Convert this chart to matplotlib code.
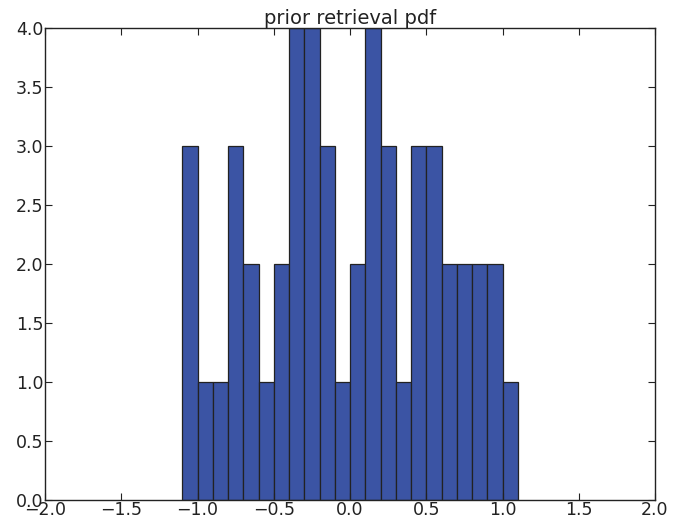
import numpy as np
import matplotlib.pyplot as plt

# histogram of the prior retrieval samples, bins of 0.1 from -1.1 to 1.1
bin_edges = np.round(np.arange(-1.1, 1.1001, 0.1), 2)
counts = [3, 1, 1, 3, 2, 1, 2, 4, 4, 3, 1, 2, 4, 3, 1, 3, 3, 2, 2, 2, 2, 1]

x_ticks = [-2.0, -1.5, -1.0, -0.5, 0.0, 0.5, 1.0, 1.5, 2.0]
y_ticks = [0.0, 0.5, 1.0, 1.5, 2.0, 2.5, 3.0, 3.5, 4.0]

plt.rcParams['font.family'] = 'DejaVu Sans'

fig = plt.figure(figsize=(6.88, 5.26), dpi=100)
ax = fig.add_axes([45 / 688, 26 / 526, 610 / 688, 472 / 526])

centers = (bin_edges[:-1] + bin_edges[1:]) / 2
ax.hist(centers, bins=bin_edges, weights=counts,
        color='#3b54a4', edgecolor='#222222', linewidth=0.9)

ax.set_xlim(-2, 2)
ax.set_ylim(0, 4)
ax.set_xticks(x_ticks)
ax.set_yticks(y_ticks)
ax.set_xticklabels(['\u2212%.1f' % abs(t) if t < 0 else '%.1f' % t for t in x_ticks])
ax.set_yticklabels(['%.1f' % t for t in y_ticks])
ax.tick_params(direction='in', top=True, right=True, length=5, width=0.8,
               pad=1, colors='#222222', labelsize=12.5)
for s in ax.spines.values():
    s.set_linewidth(1.0)
    s.set_color('#222222')

ax.set_title('prior retrieval pdf', fontsize=14, pad=3, color='#222222')

fig.savefig('out.png', dpi=100)
